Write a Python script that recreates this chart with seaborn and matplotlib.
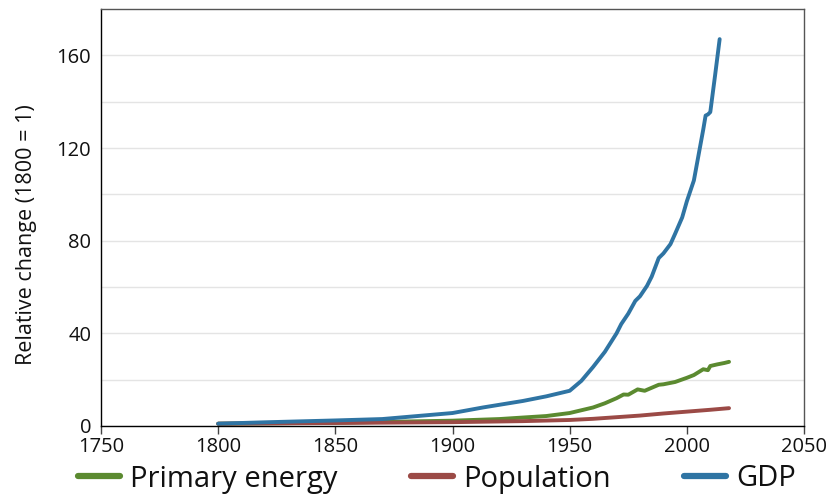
import pandas as pd
import numpy as np
import matplotlib.pyplot as plt
import seaborn as sns

# values (relative to 1800 = 1)
gdp_years = [1800, 1820, 1850, 1870, 1900, 1913, 1930, 1940, 1950, 1955, 1960, 1965,
             1970, 1972, 1975, 1978, 1980, 1983, 1985, 1988, 1990, 1993, 1995, 1998,
             2000, 2003, 2005, 2007, 2008, 2009, 2010, 2012, 2014]
gdp_vals = [1.0, 1.6, 2.4, 3.0, 5.6, 8.0, 10.8, 12.8, 15.2, 19.5, 25.5, 32.0,
            40.0, 44.0, 48.5, 54.0, 56.0, 60.5, 64.5, 72.5, 74.5, 78.5, 83.0, 90.0,
            97.0, 106.0, 117.0, 128.0, 134.0, 134.5, 135.5, 151.0, 167.0]

energy_years = [1800, 1850, 1900, 1920, 1940, 1950, 1955, 1960, 1965, 1970, 1973, 1975,
                1979, 1982, 1985, 1988, 1990, 1995, 2000, 2003, 2007, 2009, 2010, 2013,
                2016, 2018]
energy_vals = [1.0, 1.4, 2.3, 3.0, 4.3, 5.6, 6.8, 8.0, 9.8, 12.0, 13.6, 13.5,
               15.8, 15.2, 16.5, 17.8, 18.0, 19.0, 20.8, 22.0, 24.5, 24.1, 25.9, 26.6,
               27.2, 27.7]

pop_years = [1800, 1850, 1900, 1930, 1950, 1960, 1970, 1980, 1990, 2000, 2010, 2018]
pop_vals = [1.0, 1.3, 1.65, 2.1, 2.6, 3.1, 3.8, 4.5, 5.4, 6.2, 7.0, 7.7]

series_names = ['Primary energy', 'Population', 'GDP']
colors = ['#5b8a30', '#9b4a46', '#2f74a3']

df = pd.concat([
    pd.DataFrame({'year': energy_years, 'value': energy_vals, 'series': 'Primary energy'}),
    pd.DataFrame({'year': pop_years, 'value': pop_vals, 'series': 'Population'}),
    pd.DataFrame({'year': gdp_years, 'value': gdp_vals, 'series': 'GDP'}),
])

sns.set_style('white')
plt.rcParams['font.family'] = ['Open Sans', 'DejaVu Sans']
plt.rcParams['text.color'] = '#111111'
plt.rcParams['axes.labelcolor'] = '#111111'
plt.rcParams['xtick.color'] = '#111111'
plt.rcParams['ytick.color'] = '#111111'

fig = plt.figure(figsize=(8.3, 4.95), dpi=100)
ax = fig.add_axes([0.1217, 0.1394, 0.8470, 0.8424])

sns.lineplot(data=df, x='year', y='value', hue='series', hue_order=series_names,
             palette=colors, linewidth=2.8, ax=ax, legend=False)

ax.set_xlim(1750, 2050)
ax.set_ylim(0, 180)
ax.set_xticks(np.arange(1750, 2051, 50))
ax.set_yticks([0, 40, 80, 120, 160])
ax.set_yticks(np.arange(20, 180, 40), minor=True)
ax.grid(axis='y', which='both', color='#e4e4e4', linewidth=1)
ax.set_axisbelow(True)
ax.tick_params(axis='x', direction='out', length=6, width=1, color='#444444',
               labelsize=14.5, pad=2, bottom=True)
ax.tick_params(axis='y', which='both', length=0, labelsize=14.5, pad=7, left=False)
ax.set_xlabel('')
ax.set_ylabel('Relative change (1800 = 1)', fontsize=15.5)
ax.yaxis.set_label_coords(-0.091, 0.46)

ax.spines['left'].set_color('black')
ax.spines['bottom'].set_color('black')
ax.spines['top'].set_color('#555555')
ax.spines['right'].set_color('#555555')
for s in ax.spines.values():
    s.set_linewidth(1)

handles = [plt.Line2D([], [], color=c, linewidth=4.5) for c in colors]
fig.legend(handles, series_names, loc='lower left', bbox_to_anchor=(0.062, -0.05),
           ncol=3, frameon=False, fontsize=21, handlelength=1.45, handletextpad=0.35,
           columnspacing=2.5)

fig.savefig('out.png', dpi=100)
